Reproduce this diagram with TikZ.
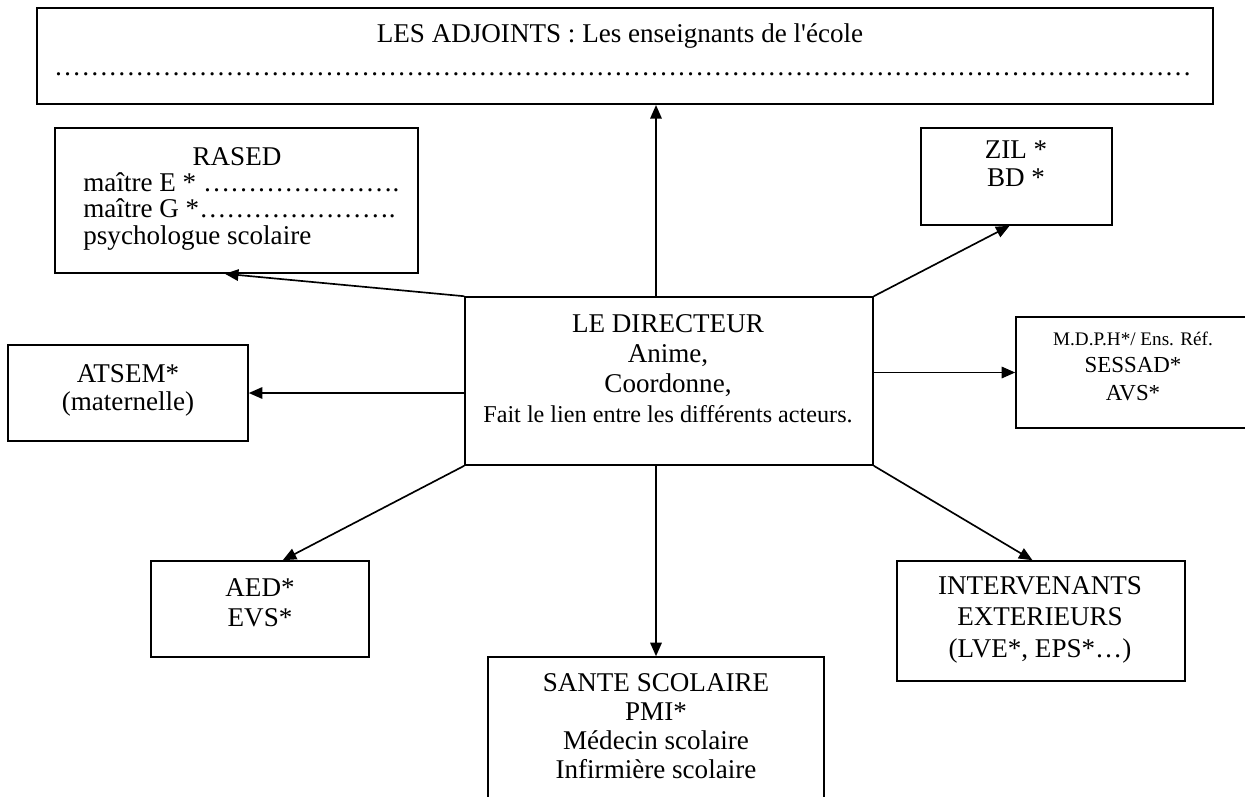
\documentclass[tikz,border=0pt]{standalone}
\usepackage{fontspec}
\setmainfont{Liberation Serif}
\usetikzlibrary{arrows.meta,fit}

\begin{document}
\begin{tikzpicture}[
                    x=0.48pt, y=-0.48pt,
                    box/.style={
                        draw,
                        line width=0.75pt,
                        inner sep=0pt
                    },
                    txt/.style={
                        align=center,
                        anchor=base,
                        inner sep=0pt,
                        font=\fontsize{13}{14.4}\selectfont
                    },
                    arr/.style={
                        -{Triangle[length=6.5pt,width=5.5pt]},
                        line width=0.8pt
                    }
                ]

                    \useasboundingbox (0,0) rectangle (1245,796);

                    % Boxes
                    \node[box, line width=1pt, fit={(37,8) (1213,104)}] (adj) {};
                    \node[box, fit={(55,128) (418,273)}] (rased) {};
                    \node[box, fit={(921,128) (1112,225)}] (zil) {};
                    \node[box, fit={(465,297) (873,465)}] (dir) {};
                    \node[box, fit={(8,345) (248,441)}] (atsem) {};
                    \node[box, fit={(1016,317) (1262,428)}] (mdph) {};
                    \node[box, fit={(151,561) (369,657)}] (aed) {};
                    \node[box, fit={(897,561) (1185,681)}] (interv) {};
                    \node[box, fit={(488,657) (824,812)}] (sante) {};

                    % Texts (anchored on the baseline of their last line)
                    \node[txt] (adjtitle) at (620,42) {LES ADJOINTS : Les enseignants de l\textquotesingle école};
                    \node[txt] (adjdots) at (623,75) {\foreach \i in {1,...,42}{…}};
                    \node[txt] (rasedtitle) at (237,165) {RASED};
                    \node[txt, align=left, anchor=base west, font=\fontsize{13}{12.6}\selectfont] (rasedlist) at (83,244)
                        {maître E * ………………….\\maître G *………………….\\psychologue scolaire};
                    \node[txt, font=\fontsize{13}{13.4}\selectfont] (ziltxt) at (1016,186) {ZIL *\\BD *};
                    \node[txt] (dirtxt) at (668,422)
                        {LE DIRECTEUR\\Anime,\\Coordonne,\\{\fontsize{11.6}{14}\selectfont Fait le lien entre les différents acteurs.}};
                    \node[txt, font=\fontsize{13}{13}\selectfont] (atsemtxt) at (128,410) {ATSEM*\\(maternelle)};
                    \node[txt, font=\fontsize{11}{13}\selectfont] (mdphtxt) at (1133,400)
                        {{\fontsize{9.2}{11}\selectfont M.D.P.H*/ Ens. Réf.}\\SESSAD*\\AVS*};
                    \node[txt] (aedtxt) at (260,626) {AED*\\EVS*};
                    \node[txt, font=\fontsize{13}{14.9}\selectfont] (intervtxt) at (1040,657)
                        {INTERVENANTS\\EXTERIEURS\\(LVE*, EPS*…)};
                    \node[txt, font=\fontsize{13}{13.9}\selectfont] (santetxt) at (656,778)
                        {SANTE SCOLAIRE\\PMI*\\Médecin scolaire\\Infirmière scolaire};

                    % Edges
                    \draw[arr] (dir.north -| sante.north) -- (adj.south -| sante.north);
                    \draw[arr] (dir.north west) -- (rased.261);
                    \draw[arr] (dir.north east) -- (zil.262);
                    \draw[arr] (mdph.west -| dir.east) -- (mdph.west);
                    \draw[arr] (atsem.east -| dir.west) -- (atsem.east);
                    \draw[arr] (dir.south west) -- (aed.65);
                    \draw[arr] (dir.south -| sante.north) -- (sante.north);
                    \draw[arr] (dir.south east) -- (interv.98);
                \end{tikzpicture}
\end{document}
